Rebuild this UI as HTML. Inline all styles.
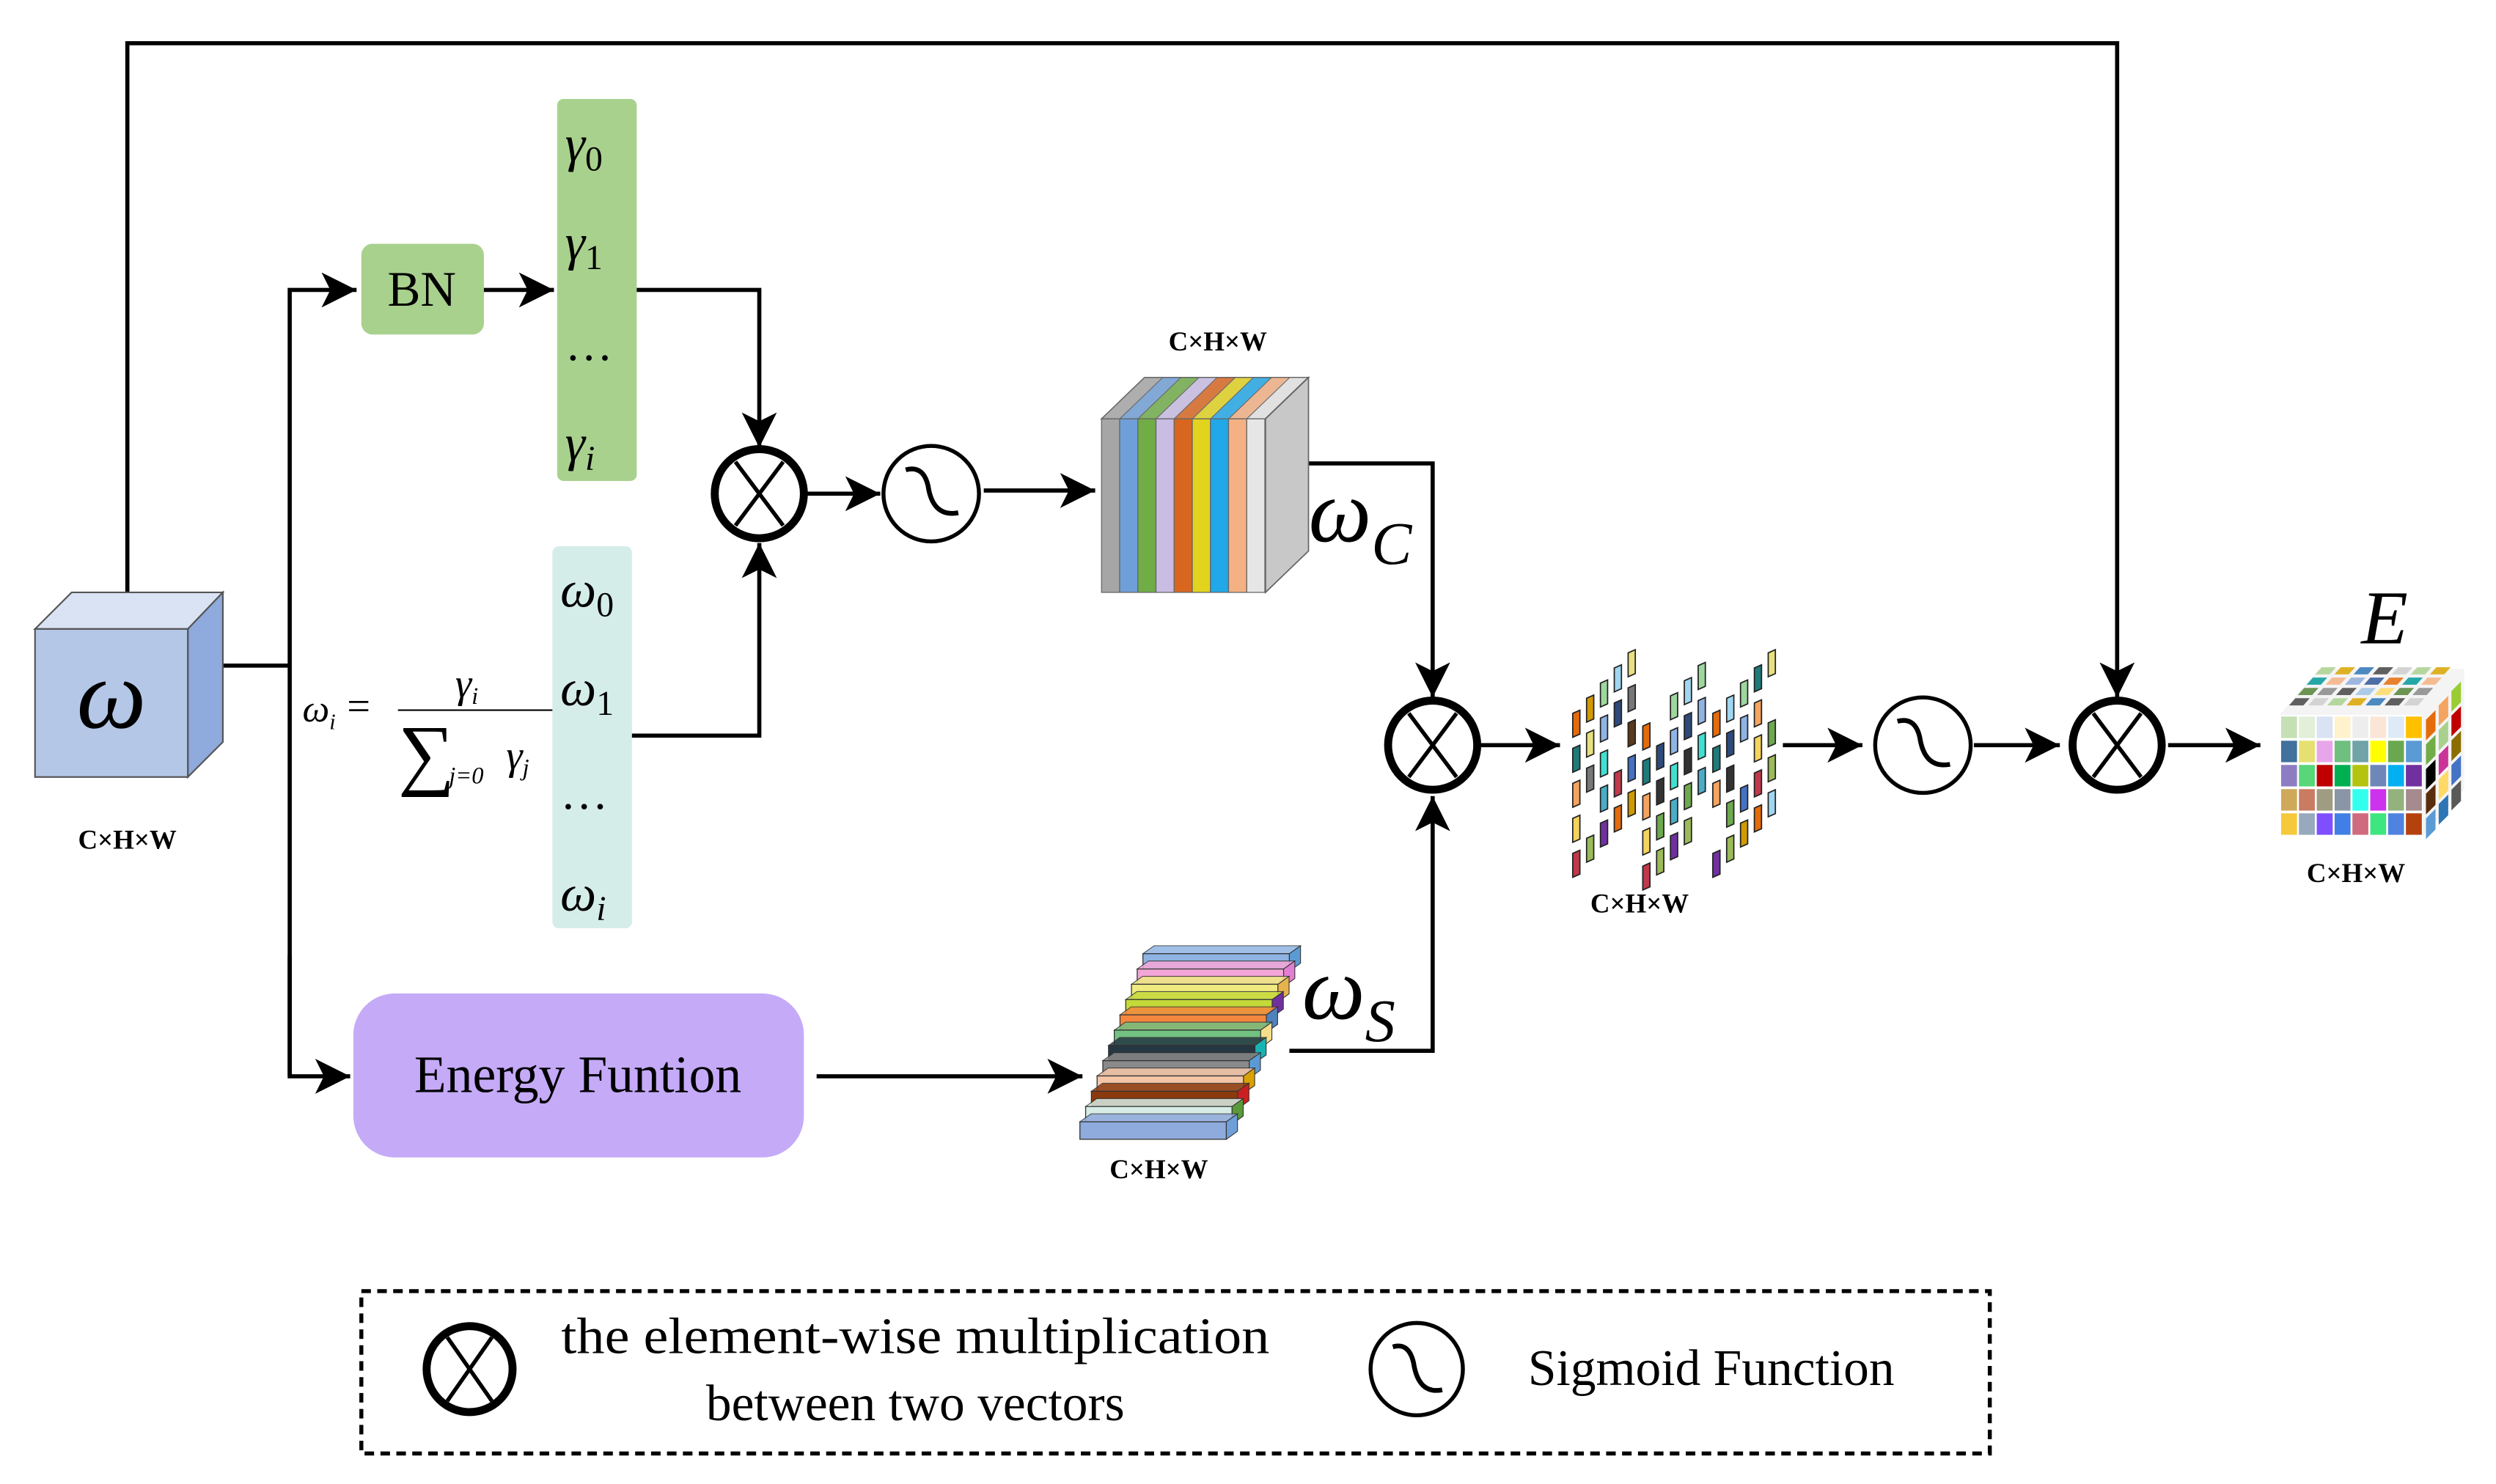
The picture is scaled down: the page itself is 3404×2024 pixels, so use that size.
<!DOCTYPE html>
<html><head><meta charset="utf-8">
<style>
html,body{margin:0;padding:0;background:#fff;}
svg{display:block;}
text{font-family:"Liberation Serif",serif;}
.lbl{font-family:"Liberation Serif",serif;font-weight:bold;font-size:17px;text-anchor:middle;}
.it{font-style:italic;}
</style></head>
<body>
<svg id="s" width="3404" height="2024" viewBox="0 0 1568 932" xmlns="http://www.w3.org/2000/svg">
<defs>
<marker id="ab" viewBox="0 0 10 10" refX="10" refY="5" markerWidth="22" markerHeight="22" markerUnits="userSpaceOnUse" orient="auto">
<path d="M0,0 L10,5 L0,10 L2.5,5 z" fill="#000"/>
</marker>
</defs>
<g fill="none" stroke="#000" stroke-width="2.6">
<polyline points="80,372 80,27 1330,27 1330,438" marker-end="url(#ab)"/>
<polyline points="140,418 182,418"/>
<polyline points="182,676 182,182 224,182" marker-end="url(#ab)"/>
<polyline points="182,600 182,676 220,676" marker-end="url(#ab)"/>
<line x1="303" y1="182" x2="348" y2="182" marker-end="url(#ab)"/>
<polyline points="399,182 477,182 477,281" marker-end="url(#ab)"/>
<polyline points="396,462 477,462 477,341" marker-end="url(#ab)"/>
<line x1="506" y1="310" x2="553" y2="310" marker-end="url(#ab)"/>
<line x1="618" y1="308" x2="688" y2="308" marker-end="url(#ab)"/>
<polyline points="820,291 900,291 900,438" marker-end="url(#ab)"/>
<line x1="513" y1="676" x2="680" y2="676" marker-end="url(#ab)"/>
<polyline points="810,660 900,660 900,500" marker-end="url(#ab)"/>
<line x1="930" y1="468" x2="980" y2="468" marker-end="url(#ab)"/>
<line x1="1120" y1="468" x2="1170" y2="468" marker-end="url(#ab)"/>
<line x1="1240" y1="468" x2="1294" y2="468" marker-end="url(#ab)"/>
<line x1="1362" y1="468" x2="1420" y2="468" marker-end="url(#ab)"/>
</g>

<polygon points="22,395 45,372 140,372 118,395" fill="#dae3f3" stroke="#555" stroke-width="1"/>
<polygon points="118,395 140,372 140,466 118,488" fill="#8faadc" stroke="#555" stroke-width="1"/>
<rect x="22" y="395" width="96" height="93" fill="#b4c7e7" stroke="#555" stroke-width="1"/>
<text x="70" y="457" font-size="62" class="it" text-anchor="middle">ω</text>
<text x="80" y="533" class="lbl">C×H×W</text>

<rect x="227" y="153" width="77" height="57" rx="7" fill="#a9d18e"/>
<text x="265" y="192" font-size="31" text-anchor="middle">BN</text>

<rect x="350" y="62" width="50" height="240" rx="4" fill="#a9d18e"/>
<text x="355" y="101" font-size="32" class="it">γ<tspan font-size="22" font-style="normal" dy="6">0</tspan></text>
<text x="355" y="163" font-size="32" class="it">γ<tspan font-size="22" font-style="normal" dy="6">1</tspan></text>
<text x="355" y="226" font-size="30">…</text>
<text x="355" y="289" font-size="32" class="it">γ<tspan font-size="22" dy="6">i</tspan></text>

<rect x="347" y="343" width="50" height="240" rx="4" fill="#d5ede8"/>
<text x="352" y="381" font-size="32" class="it">ω<tspan font-size="22" font-style="normal" dy="6">0</tspan></text>
<text x="352" y="443" font-size="32" class="it">ω<tspan font-size="22" font-style="normal" dy="6">1</tspan></text>
<text x="352" y="508" font-size="30">…</text>
<text x="352" y="572" font-size="32" class="it">ω<tspan font-size="22" dy="6">i</tspan></text>

<text x="190" y="453" font-size="24" class="it">ω<tspan font-size="14" dy="5">i</tspan></text>
<text x="218" y="452" font-size="26">=</text>
<text x="286" y="438" font-size="26" class="it">γ<tspan font-size="15" dy="4">i</tspan></text>
<line x1="250" y1="446" x2="347" y2="446" stroke="#000" stroke-width="1"/>
<text x="250" y="490" font-size="50">∑</text>
<text x="282" y="492" font-size="15" class="it">j=0</text>
<text x="318" y="483" font-size="26" class="it">γ<tspan font-size="15" dy="4">j</tspan></text>

<g fill="none" stroke="#000">
<circle cx="477" cy="310" r="28" stroke-width="5"/>
<line x1="462" y1="290" x2="492" y2="330" stroke-width="2.5"/><line x1="492" y1="290" x2="462" y2="330" stroke-width="2.5"/>
<circle cx="900" cy="468" r="28" stroke-width="5"/>
<line x1="885" y1="448" x2="915" y2="488" stroke-width="2.5"/><line x1="915" y1="448" x2="885" y2="488" stroke-width="2.5"/>
<circle cx="1330" cy="468" r="28" stroke-width="5"/>
<line x1="1315" y1="448" x2="1345" y2="488" stroke-width="2.5"/><line x1="1345" y1="448" x2="1315" y2="488" stroke-width="2.5"/>
<circle cx="585" cy="310" r="30" stroke-width="2.5"/>
<path d="M569,295 Q580,292 583,305 Q586,325 602,322" stroke-width="3"/>
<circle cx="1208" cy="468" r="30" stroke-width="2.5"/>
<path d="M1192,453 Q1203,450 1206,463 Q1209,483 1225,480" stroke-width="3"/>
</g>

<g id="wc"></g>
<text x="765" y="220" class="lbl">C×H×W</text>
<text x="822" y="340" font-size="56" class="it">ω<tspan font-size="38" dy="14">C</tspan></text>

<rect x="222" y="624" width="283" height="103" rx="26" fill="#c5aaf8"/>
<text x="363" y="686" font-size="33" text-anchor="middle">Energy Funtion</text>

<g id="ws"></g>
<text x="728" y="740" class="lbl">C×H×W</text>
<text x="818" y="640" font-size="56" class="it">ω<tspan font-size="38" dy="14">S</tspan></text>

<g id="tl"></g>
<text x="1030" y="573" class="lbl">C×H×W</text>

<g id="ec"></g>
<text x="1498" y="404" font-size="48" class="it" text-anchor="middle">E</text>
<text x="1480" y="554" class="lbl">C×H×W</text>

<rect x="227" y="811" width="1023" height="102" fill="none" stroke="#000" stroke-width="2.5" stroke-dasharray="6,4"/>
<g fill="none" stroke="#000">
<circle cx="295" cy="860" r="27" stroke-width="5"/>
<line x1="281" y1="840" x2="309" y2="880" stroke-width="2.5"/><line x1="309" y1="840" x2="281" y2="880" stroke-width="2.5"/>
<circle cx="890" cy="860" r="29" stroke-width="2.5"/>
<path d="M875,846 Q885,843 888,856 Q891,876 906,873" stroke-width="3"/>
</g>
<text x="575" y="850" font-size="32" text-anchor="middle" textLength="445" lengthAdjust="spacingAndGlyphs">the element-wise multiplication</text>
<text x="575" y="892" font-size="32" text-anchor="middle">between two vectors</text>
<text x="1075" y="870" font-size="32" text-anchor="middle">Sigmoid Function</text>
</svg>
<script>
var NS="http://www.w3.org/2000/svg";
function el(p,t,a){var e=document.createElementNS(NS,t);for(var k in a)e.setAttribute(k,a[k]);p.appendChild(e);return e;}
var wc=document.getElementById('wc');
var cs=['#a6a6a6','#6f9fd8','#70ad47','#c9bde3','#d9661f','#e2d31e','#20a8e8','#f4b183','#e6e6e6'];
el(wc,'polygon',{points:'692,263 719,237 822,237 795,263',fill:'#cfcfcf',stroke:'#666','stroke-width':0.8});
for(var i=0;i<cs.length;i++){var x=692+i*11.4;
el(wc,'polygon',{points:x+',263 '+(x+27)+',237 '+(x+38.4)+',237 '+(x+11.4)+',263',fill:cs[i],stroke:'#666','stroke-width':0.5,opacity:0.8});
el(wc,'rect',{x:x,y:263,width:11.4,height:109,fill:cs[i],stroke:'#666','stroke-width':0.6});}
el(wc,'polygon',{points:'795,263 822,237 822,346 795,372',fill:'#c8c8c8',stroke:'#666','stroke-width':0.8});
var ws=document.getElementById('ws');
var bc=['#8fb4e3','#f4a6d8','#f0ea80','#c4d93a','#f4873f','#72c181','#253742','#8a8a8a','#f4c6a8','#8b3a0e','#d6ece4','#8faadc'];
var sc=['#5b9bd5','#e37fd2','#e6b24c','#7030a0','#4f81bd','#f6dd8a','#17b2b2','#5b9bd5','#d8a200','#cc2020','#5a9a3a','#6f9fd8'];
for(var i=0;i<bc.length;i++){var x=718-i*3.6,y=599+i*9.6,w=92,h=11;
el(ws,'polygon',{points:x+','+y+' '+(x+7)+','+(y-5)+' '+(x+w+7)+','+(y-5)+' '+(x+w)+','+y,fill:bc[i],stroke:'#333','stroke-width':0.5,opacity:0.85});
el(ws,'rect',{x:x,y:y,width:w,height:h,fill:bc[i],stroke:'#333','stroke-width':0.6});
el(ws,'polygon',{points:(x+w)+','+y+' '+(x+w+7)+','+(y-5)+' '+(x+w+7)+','+(y+h-5)+' '+(x+w)+','+(y+h),fill:sc[i],stroke:'#333','stroke-width':0.5});}
var tl=document.getElementById('tl');
var tc=['#e46c0a','#9bbb59','#4472c4','#4bacc6','#f4d35e','#333','#777','#8fb4e3','#1f7a7a','#a0d6f0','#d09a00','#7030a0','#c0394b','#6ea84f','#5a3a1a','#40e0d0','#f4a460','#2e4a7a','#e8e080','#9ed79e'];
var n=0;
for(var g=0;g<3;g++)for(var c=0;c<5;c++)for(var r=0;r<5;r++){
var x=988+g*44+c*8.7,y=446-c*9.5+r*22+(g==1?8:0);
if((g*31+c*7+r*3)%11==5)continue;
var col=tc[(g*17+c*5+r*7+n)%tc.length];n++;
el(tl,'polygon',{points:x+','+(y+2)+' '+(x+4.5)+','+y+' '+(x+4.5)+','+(y+15)+' '+x+','+(y+17),fill:col,stroke:'#222','stroke-width':0.8});}
var ec=document.getElementById('ec');
var fc=[['#c5e0b4','#e2efd9','#dae3f3','#fff2cc','#ededed','#fbe5d6','#deebf7','#ffc000'],
['#41719c','#e6e070','#e8a6ea','#6fbf7f','#6fa3a8','#ffff00','#6aa84f','#5b9bd5'],
['#8e7cc3','#57d67a','#c00000','#00b050','#b4c30e','#6f86b9','#00b0f0','#7030a0'],
['#cfa95a','#c97c62','#a09c82','#8a95a5','#33ffee','#cc33ee','#93b27e','#a58a8e'],
['#f6c93c','#97a9bc','#7f4fff','#3f7fe6','#d06a7e','#3ee67f','#5083e0','#b5420d']];
el(ec,'polygon',{points:'1432,449 1457,420 1548,420 1522,449',fill:'#f4f4f4'});
var tcol=['#444','#9dc3e6','#f4b183','#ccc','#ffd966','#8faadc','#a9d18e','#548235','#2f5597','#d9a400','#888','#e46c0a','#2e75b6','#444','#009999'];
for(var r=0;r<4;r++)for(var c=0;c<7;c++){var y=443-r*6.5,x=1438+c*12+r*5.5;
el(ec,'polygon',{points:x+','+y+' '+(x+4)+','+(y-4.5)+' '+(x+13)+','+(y-4.5)+' '+(x+9)+','+y,fill:tcol[(r*7+c*3)%tcol.length],opacity:0.85});}
el(ec,'polygon',{points:'1522,449 1548,420 1548,496 1522,525',fill:'#f4f4f4'});
var rcol=['#e46c0a','#4472c4','#70ad47','#595959','#000','#f4a460','#5a2d0c','#a9d18e','#5b9bd5','#cc3399','#9acd32','#ffd966','#c00000','#2e75b6','#8b6d00'];
for(var c=0;c<3;c++)for(var r=0;r<5;r++){var x=1524+c*8,y=452-c*9+r*15.5;
el(ec,'polygon',{points:x+','+y+' '+(x+6)+','+(y-6)+' '+(x+6)+','+(y+7)+' '+x+','+(y+13),fill:rcol[(c*5+r*2)%rcol.length]});}
for(var r=0;r<5;r++)for(var c=0;c<8;c++){el(ec,'rect',{x:1433+c*11.2,y:450+r*15.2,width:10,height:13.5,fill:fc[r][c]});}
</script>
</body></html>
